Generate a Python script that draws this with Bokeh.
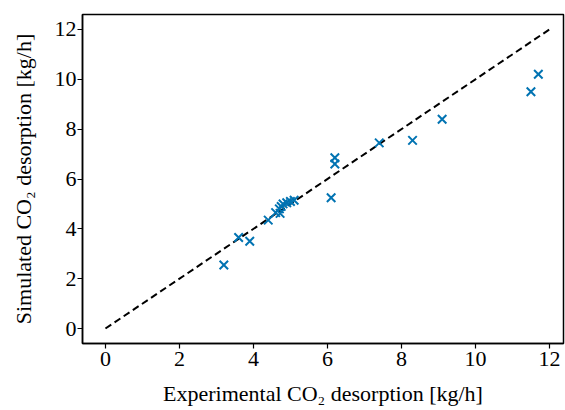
from bokeh.plotting import figure
from bokeh.models import Range1d, FixedTicker
from bokeh.embed import file_html
from bokeh.resources import INLINE

exp_x = [3.2, 3.6, 3.9, 4.4, 4.6, 4.7, 4.75, 4.8, 4.9, 5.0, 5.1, 4.72, 6.1, 6.2, 6.2, 7.4, 8.3, 9.1, 11.5, 11.7]
sim_y = [2.55, 3.65, 3.5, 4.35, 4.65, 4.8, 4.9, 5.0, 5.05, 5.1, 5.15, 4.62, 5.25, 6.85, 6.6, 7.45, 7.55, 8.4, 9.5, 10.2]
parity = [0, 12]
ticks = [0, 2, 4, 6, 8, 10, 12]

FONT = "'Liberation Serif', 'Times New Roman', serif"

p = figure(width=565, height=410, output_backend="svg", toolbar_location=None,
           x_range=Range1d(-0.62, 12.38), y_range=Range1d(-0.6, 12.6),
           min_border_left=82, min_border_right=2, min_border_top=14, min_border_bottom=67)
p.xgrid.visible = False
p.ygrid.visible = False
p.outline_line_color = "black"
p.outline_line_width = 1.5
p.background_fill_color = "white"
p.border_fill_color = "white"

p.line(parity, parity, line_color="black", line_dash="7 4", line_width=2)
p.scatter(exp_x, sim_y, marker="x", size=12, line_color="#0173b2", line_width=2)

for ax in (p.xaxis[0], p.yaxis[0]):
    ax.ticker = FixedTicker(ticks=ticks)
    ax.minor_tick_line_color = None
    ax.major_tick_out = 5
    ax.major_tick_in = 0
    ax.major_tick_line_width = 1.2
    ax.axis_line_width = 1.5
    ax.major_label_text_font = FONT
    ax.major_label_text_font_size = "22px"
    ax.major_label_text_color = "black"
    ax.axis_label_text_font = FONT
    ax.axis_label_text_font_size = "22px"
    ax.axis_label_text_font_style = "normal"
    ax.axis_label_text_color = "black"

p.xaxis.axis_label = "Experimental CO₂ desorption [kg/h]"
p.yaxis.axis_label = "Simulated CO₂ desorption [kg/h]"
p.xaxis.major_label_standoff = 3
p.yaxis.major_label_standoff = 1
p.xaxis.axis_label_standoff = 12
p.yaxis.axis_label_standoff = 16

open("out.html", "w").write(file_html(p, INLINE))
